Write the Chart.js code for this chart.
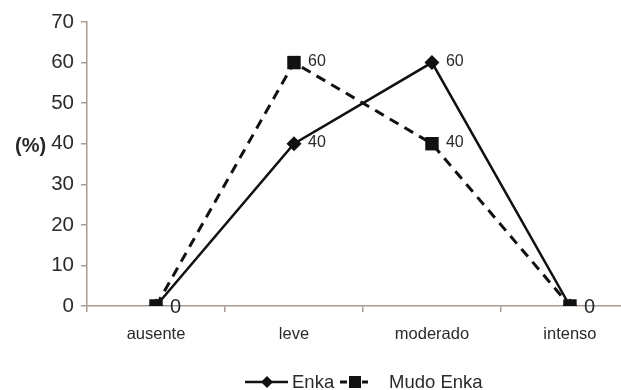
<!DOCTYPE html>
<html>
<head>
<meta charset="utf-8">
<script src="https://cdn.jsdelivr.net/npm/chart.js@4/dist/chart.umd.min.js"></script>
<style>
  html, body { margin: 0; padding: 0; background: #ffffff; }
  #wrap { width: 621px; height: 390px; position: relative; }
</style>
</head>
<body>
<div id="wrap"><canvas id="c" width="621" height="390"></canvas></div>
<script>
// Categories and series values
const categories = ['ausente', 'leve', 'moderado', 'intenso'];
const enka = [0, 40, 60, 0];
const mudoEnka = [0, 60, 40, 0];
const yTicks = [0, 10, 20, 30, 40, 50, 60, 70];
const seriesNames = ['Enka', 'Mudo Enka'];
const yUnit = '(%)';

const FONT = '"Liberation Sans", Arial, Helvetica, sans-serif';
const AXIS = '#a89c95';
const INK = '#111111';
const TEXT = '#2a2a2a';

const toPoints = arr => arr.map((v, i) => ({ x: i, y: v }));

// Value labels next to each point; a shared zero is labelled once
const valueLabels = {
  id: 'valueLabels',
  afterDatasetsDraw(chart) {
    const ctx = chart.ctx;
    const done = new Set();
    ctx.save();
    ctx.fillStyle = TEXT;
    ctx.textAlign = 'left';
    ctx.textBaseline = 'middle';
    chart.data.datasets.forEach((ds, di) => {
      const meta = chart.getDatasetMeta(di);
      meta.data.forEach((pt, i) => {
        const v = ds.data[i].y;
        if (v === 0) {
          if (done.has(i)) return;
          done.add(i);
          ctx.font = '20px ' + FONT;
          ctx.fillText(String(v), pt.x + 14, pt.y + 1);
        } else {
          ctx.font = '16px ' + FONT;
          ctx.fillText(String(v), pt.x + 14, pt.y - 1);
        }
      });
    });
    ctx.restore();
  }
};

// Unit label beside the y axis and the legend below the plot
const extras = {
  id: 'extras',
  afterDraw(chart) {
    const ctx = chart.ctx;
    const y = chart.scales.y;
    ctx.save();
    ctx.fillStyle = TEXT;
    ctx.font = 'bold 20px ' + FONT;
    ctx.textAlign = 'left';
    ctx.textBaseline = 'middle';
    ctx.fillText(yUnit, 15, y.getPixelForValue(40) + 3);

    const ly = 382;
    // Enka: solid line with diamond
    ctx.strokeStyle = INK;
    ctx.fillStyle = INK;
    ctx.lineWidth = 2.5;
    ctx.setLineDash([]);
    ctx.beginPath();
    ctx.moveTo(245, ly); ctx.lineTo(288, ly);
    ctx.stroke();
    ctx.beginPath();
    ctx.moveTo(267, ly - 6); ctx.lineTo(273, ly); ctx.lineTo(267, ly + 6); ctx.lineTo(261, ly);
    ctx.closePath(); ctx.fill();
    // Mudo Enka: dashed stub with square
    ctx.lineWidth = 3;
    ctx.beginPath();
    ctx.moveTo(340, ly); ctx.lineTo(347, ly);
    ctx.moveTo(362, ly); ctx.lineTo(368, ly);
    ctx.stroke();
    ctx.fillRect(349, ly - 6, 12, 12);

    ctx.fillStyle = TEXT;
    ctx.font = '18.5px ' + FONT;
    ctx.fillText(seriesNames[0], 292, ly + 1);
    ctx.fillText(seriesNames[1], 389, ly + 1);
    ctx.restore();
  }
};

new Chart(document.getElementById('c'), {
  type: 'line',
  data: {
    datasets: [
      {
        label: seriesNames[0],
        data: toPoints(enka),
        borderColor: INK,
        backgroundColor: INK,
        borderWidth: 2.5,
        pointStyle: 'rectRot',
        pointRadius: 7.5,
        pointBorderWidth: 0,
        pointBackgroundColor: INK,
        tension: 0,
        order: 1
      },
      {
        label: seriesNames[1],
        data: toPoints(mudoEnka),
        borderColor: INK,
        backgroundColor: INK,
        borderWidth: 3,
        borderDash: [10, 7],
        pointStyle: 'rect',
        pointRadius: 9.5,
        pointBorderWidth: 0,
        pointBackgroundColor: INK,
        tension: 0,
        order: 0
      }
    ]
  },
  options: {
    responsive: false,
    animation: false,
    devicePixelRatio: 1,
    layout: { autoPadding: false, padding: { top: 22, right: 0, bottom: 0, left: 0 } },
    plugins: {
      legend: { display: false },
      tooltip: { enabled: false }
    },
    scales: {
      x: {
        type: 'linear',
        min: -0.5,
        max: 3.37,
        afterBuildTicks: s => { s.ticks = categories.map((_, i) => ({ value: i })); },
        afterFit: s => { s.height = 84; s.paddingLeft = 0; s.paddingRight = 0; },
        ticks: {
          callback: v => categories[v],
          font: { family: FONT, size: 16.5 },
          color: TEXT,
          padding: 13,
          maxRotation: 0,
          autoSkip: false
        },
        grid: {
          offset: true,
          drawOnChartArea: false,
          drawTicks: true,
          tickLength: 6,
          color: AXIS,
          lineWidth: 1.5
        },
        border: { color: AXIS, width: 1.5 }
      },
      y: {
        min: 0,
        max: 70,
        afterBuildTicks: s => { s.ticks = yTicks.map(v => ({ value: v })); },
        afterFit: s => { s.width = 87; },
        ticks: {
          font: { family: FONT, size: 20.5 },
          color: TEXT,
          padding: 7
        },
        grid: {
          drawOnChartArea: false,
          drawTicks: true,
          tickLength: 6,
          color: AXIS,
          lineWidth: 1.5
        },
        border: { color: AXIS, width: 1.5 }
      }
    }
  },
  plugins: [valueLabels, extras]
});
</script>
</body>
</html>
